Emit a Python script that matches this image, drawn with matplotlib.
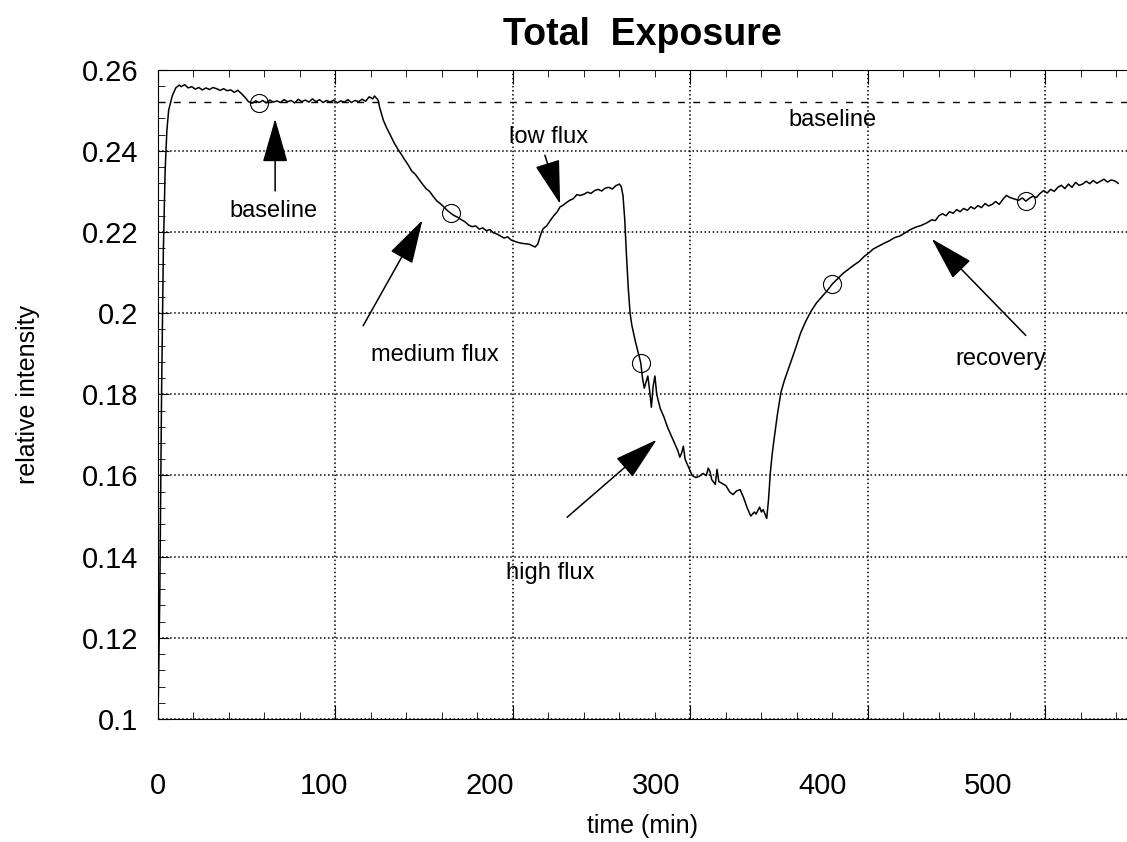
import numpy as np
import matplotlib
matplotlib.use("Agg")
import matplotlib.pyplot as plt
import matplotlib.transforms as mtransforms
from matplotlib.ticker import MultipleLocator

plt.rcParams['font.family'] = ['Liberation Sans', 'DejaVu Sans']

# intensity trace (time in min, relative intensity)
time = [0, 1, 2, 3, 4, 5, 6, 8, 10, 12, 13, 15, 17, 19, 21, 23, 25, 27, 29, 31, 33, 35, 37, 39,
        41, 43, 45, 47, 49, 51, 53, 55, 57, 59, 61, 63, 65, 67, 69, 71, 73, 75, 77, 79, 81, 83,
        85, 87, 89, 91, 93, 95, 97, 99, 101, 103, 105, 107, 109, 111, 113, 115, 117, 119, 121,
        122, 124,
        125, 127, 129, 131, 133, 135, 137, 139, 141, 143, 145, 147, 149, 151, 153, 155, 157,
        159, 161, 163, 165, 167, 169, 171, 173, 175, 177, 179, 181, 183, 185, 187, 189, 191,
        193, 195, 197, 199, 201, 203, 205, 207, 209, 211, 212.5, 214, 215, 216, 217, 219, 221,
        223, 225, 226.6, 228, 230, 232, 234, 236, 238, 240, 242, 244, 246, 248, 250, 252, 254,
        256, 258, 260, 261,
        262, 263, 264, 265, 266, 267, 269, 271, 272, 273, 274, 275, 276, 277, 278, 279, 280,
        281, 283, 285, 287, 289, 291, 293, 294, 295, 296, 297, 299, 301, 303, 305, 307, 309,
        310, 311, 312, 314, 315, 316, 318, 320, 322, 324, 326, 328, 330, 332, 334, 336, 337,
        339, 340, 341, 343,
        344, 345, 346, 347, 349, 351, 353, 355, 357, 359, 362, 365, 368, 371, 374, 377, 380,
        383, 386, 389, 392, 395, 398, 401, 403, 406, 409, 412, 415, 418, 421, 424, 427, 430,
        433, 436, 438, 440, 442, 444, 446, 448, 450, 452, 454, 456, 458, 460, 462, 464, 466,
        468, 470, 472, 474, 476, 478, 480, 482, 485, 487, 489, 491, 493, 495, 497, 499, 501,
        503, 505, 507, 509, 511, 513, 515, 517, 519, 521, 523, 525, 527, 529, 531, 533, 535,
        537, 539, 541]
intensity = [0.100, 0.130, 0.180, 0.215, 0.235, 0.245, 0.250, 0.2535, 0.2555, 0.2562, 0.2558,
             0.2563, 0.2555, 0.2558, 0.2552, 0.2556, 0.2550, 0.2555, 0.2551, 0.2556, 0.2553,
             0.2549, 0.2553, 0.2548, 0.2550, 0.2544, 0.2549, 0.2541, 0.2532, 0.2521, 0.2517,
             0.2523, 0.2519, 0.2524, 0.2518, 0.2525, 0.2520, 0.2523, 0.2519, 0.2526, 0.2521,
             0.2524, 0.2518, 0.2527, 0.2521, 0.2525, 0.2520, 0.2528, 0.2521, 0.2526, 0.2519,
             0.2524, 0.2520, 0.2525, 0.2518, 0.2523, 0.2520, 0.2526, 0.2519, 0.2524, 0.2521,
             0.2527, 0.2522, 0.2533, 0.2528, 0.2535, 0.2525,
             0.2505, 0.2475, 0.2455, 0.2438, 0.2420, 0.2405, 0.2392, 0.2378, 0.2365, 0.2350,
             0.2342, 0.2330, 0.2318, 0.2307, 0.2300, 0.2288, 0.2277, 0.2270, 0.2262, 0.2253,
             0.2246, 0.2240, 0.2236, 0.2230, 0.2225, 0.2217, 0.2213, 0.2215, 0.2207, 0.2210,
             0.2203, 0.2206, 0.2198, 0.2195, 0.2190, 0.2185, 0.2188, 0.2180, 0.2177, 0.2174,
             0.2172, 0.2171, 0.2170, 0.2166, 0.2163, 0.2170, 0.2185, 0.2198, 0.2208, 0.2215,
             0.2228, 0.2240, 0.2250, 0.2262, 0.2265, 0.2272, 0.2278, 0.2282, 0.2292, 0.2290,
             0.2293, 0.2298, 0.2295, 0.2302, 0.2305, 0.2301, 0.2308, 0.2310, 0.2306, 0.2314,
             0.2318, 0.2312,
             0.2290, 0.2230, 0.2140, 0.2060, 0.2000, 0.1970, 0.1930, 0.1895, 0.1878, 0.1840,
             0.1815, 0.1830, 0.1845, 0.1810, 0.1768, 0.1820, 0.1845, 0.1800, 0.1765, 0.1745,
             0.1720, 0.1700, 0.1680, 0.1660, 0.1645, 0.1655, 0.1672, 0.1640, 0.1620, 0.1600,
             0.1595, 0.1598, 0.1605, 0.1600, 0.1618, 0.1610, 0.1590, 0.1578, 0.1615, 0.1585,
             0.1580, 0.1575, 0.1560, 0.1553, 0.1562, 0.1565, 0.1545, 0.1520, 0.1500, 0.1510,
             0.1505, 0.1522, 0.1510, 0.1516, 0.1494,
             0.1540, 0.1605, 0.1650, 0.1685, 0.1750, 0.1805, 0.1835, 0.1860, 0.1885, 0.1910,
             0.1950, 0.1980, 0.2005, 0.2025, 0.2040, 0.2055, 0.2072, 0.2085, 0.2098, 0.2108,
             0.2118, 0.2127, 0.2140, 0.2150, 0.2158, 0.2165, 0.2172, 0.2178, 0.2186, 0.2190,
             0.2198, 0.2206, 0.2212, 0.2216, 0.2222, 0.2230, 0.2228, 0.2240, 0.2245, 0.2240,
             0.2250, 0.2246, 0.2255, 0.2250, 0.2258, 0.2253, 0.2262, 0.2257, 0.2265, 0.2260,
             0.2270, 0.2264, 0.2268, 0.2275, 0.2268, 0.2280, 0.2290, 0.2285, 0.2282, 0.2278,
             0.2284, 0.2276, 0.2283, 0.2288, 0.2285, 0.2295, 0.2302, 0.2296, 0.2305, 0.2300,
             0.2310, 0.2315, 0.2307, 0.2318, 0.2310, 0.2322, 0.2315, 0.2318, 0.2325, 0.2319,
             0.2327, 0.2320, 0.2325, 0.2330, 0.2323, 0.2328, 0.2326, 0.2320]

# open circles on the trace
mark_time = [57, 165, 272, 380, 489]
mark_val = [0.2519, 0.2246, 0.1878, 0.2072, 0.2276]

baseline_level = 0.2520

x_ticks = [0, 100, 200, 300, 400, 500]
y_ticks = [0.1, 0.12, 0.14, 0.16, 0.18, 0.2, 0.22, 0.24, 0.26]
y_ticklabels = ['0.1', '0.12', '0.14', '0.16', '0.18', '0.2', '0.22', '0.24', '0.26']

# annotations: text, text position, arrow tail, arrow tip
notes = [
    ("baseline", (65, 0.2252), (66, 0.2301), (66, 0.2479)),
    ("medium flux", (156, 0.1897), (115.6, 0.1969), (149, 0.2229)),
    ("low flux", (220, 0.2433), (218, 0.2389), (226.6, 0.2269)),
    ("high flux", (221, 0.1360), (230.5, 0.1497), (281, 0.1688)),
    ("recovery", (474.6, 0.1887), (489, 0.1945), (436, 0.2183)),
]

fig = plt.figure(figsize=(11.27, 8.42), dpi=100)
ax = fig.add_axes([0.1402, 0.1461, 0.8598, 0.7712])

ax.plot(time, intensity, color='k', lw=1.1)
ax.plot(mark_time, mark_val, 'o', mfc='none', mec='k', ms=13, mew=0.8)
ax.axhline(baseline_level, color='k', lw=1, linestyle=(0, (5, 6)))
ax.text(380, 0.2475, "baseline", fontsize=17, ha='center', va='center')

for label, txt, tail, tip in notes:
    ax.text(txt[0], txt[1], label, fontsize=17, ha='center', va='center')
    ax.annotate("", xy=tip, xytext=tail,
                arrowprops=dict(arrowstyle="-|>,head_length=1.4,head_width=0.4",
                                mutation_scale=20, color='k', lw=1.1,
                                shrinkA=0, shrinkB=0))

ax.set_xlim(0, 546)
ax.set_ylim(0.1, 0.26)
ax.set_xticks(x_ticks)
ax.set_xticklabels([str(v) for v in x_ticks])
ax.xaxis.set_minor_locator(MultipleLocator(20))
ax.set_yticks(y_ticks)
ax.set_yticklabels(y_ticklabels)
ax.yaxis.set_minor_locator(MultipleLocator(0.004))

ax.grid(True, which='major', color='k', linestyle=':', lw=1.1)
ax.tick_params(which='both', direction='in', top=True, right=False, color='k')
ax.tick_params(axis='x', which='major', length=10, pad=38, labelsize=21)
ax.tick_params(axis='y', which='major', length=8, pad=14, labelsize=21)
ax.tick_params(which='minor', length=5)
ax.spines['right'].set_visible(False)

# the scanned labels drift left of their ticks
for i, lab in enumerate(ax.get_xticklabels()):
    shift = mtransforms.ScaledTranslation(-i * 8.2 / 72, 0, fig.dpi_scale_trans)
    lab.set_transform(lab.get_transform() + shift)

ax.set_xlabel("time (min)", fontsize=18, labelpad=10)
ax.set_ylabel("relative intensity", fontsize=18, labelpad=30)
ax.set_title("Total  Exposure", fontsize=27, fontweight='bold', pad=18)

fig.savefig("out.png", dpi=100)
